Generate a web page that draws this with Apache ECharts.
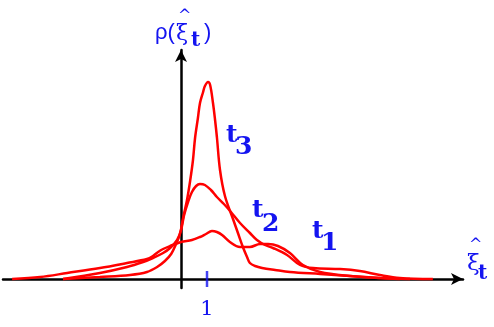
<!DOCTYPE html>
<html>
<head>
<meta charset="utf-8">
<script src="https://cdn.jsdelivr.net/npm/echarts@6/dist/echarts.min.js"></script>
<style>
  html, body { margin: 0; padding: 0; background: #fff; }
  #chart { width: 494px; height: 327px; }
</style>
</head>
<body>
<div id="chart"></div>
<script>
// density curves (x: tick "1" = 1, y: arbitrary height)
const t1X = [-6.5, -5.42, -4.38, -3.12, -2.08, -1.31, -1.08, -0.88, -0.69, -0.42, 0, 0.42, 0.73, 0.96, 1.19, 1.38, 1.58, 1.88, 2.27, 2.65, 3.04, 3.35, 3.73, 4.19, 4.69, 5.35, 6.5, 7.65, 8.81];
const t1Y = [0, 2, 6, 11, 16, 20, 23, 27, 30, 33, 37, 39, 42, 45, 48, 47, 44, 37, 32, 32, 35, 35, 33, 26, 14, 7, 3, 1, 0];

const t2X = [-4.54, -3.12, -2.08, -1.46, -1.08, -0.69, -0.42, -0.15, 0, 0.12, 0.27, 0.42, 0.58, 0.73, 0.92, 1.15, 1.38, 1.65, 1.92, 2.27, 2.65, 2.92, 3.23, 3.54, 4.08, 4.58, 5.08, 6.12, 6.88, 7.65, 8.42, 9.69];
const t2Y = [0, 6, 12, 17, 21, 26, 31, 39, 49, 64, 77, 87, 93, 95, 94, 89, 82, 75, 67, 56, 46, 39, 34, 31, 24, 14, 11, 10, 8, 4, 1, 0];

const t3X = [-4.54, -3.12, -1.96, -1.31, -0.92, -0.62, -0.38, -0.19, -0.04, 0.08, 0.23, 0.35, 0.46, 0.54, 0.65, 0.73, 0.85, 0.92, 1.04, 1.12, 1.23, 1.31, 1.38, 1.5, 1.69, 2.0, 2.19, 2.38, 2.54, 2.65, 2.85, 3.12, 3.62, 4.19, 5.35, 6.5, 7.65, 8.42];
const t3Y = [0, 2, 4, 7, 12, 18, 25, 35, 45, 61, 79, 98, 119, 141, 161, 176, 187, 193, 197, 194, 176, 159, 142, 109, 83, 60, 46, 32, 22, 16, 13, 11, 9, 7, 5, 3, 1, 0];

const tickValues = [1];

const red = '#ff0000';
const blue = '#1414f0';

const zip = (xs, ys) => xs.map((x, i) => [x, ys[i]]);

function curve(xs, ys) {
  return {
    type: 'line',
    data: zip(xs, ys),
    smooth: 0.35,
    showSymbol: false,
    silent: true,
    lineStyle: { color: red, width: 2.5 },
    z: 3
  };
}

// text piece as a title; y is the vertical middle of the text line
function txt(x, y, s, size, family, weight) {
  return {
    text: s,
    left: x,
    top: y - size / 2,
    padding: 0,
    itemGap: 0,
    textStyle: {
      color: blue,
      fontSize: size,
      lineHeight: size,
      fontFamily: family,
      fontWeight: weight || 'normal'
    }
  };
}

const serif = 'DejaVu Serif';
const sans = 'Liberation Sans';

const chart = echarts.init(document.getElementById('chart'), null, { renderer: 'canvas' });

const option = {
  animation: false,
  title: [
    // y axis title: rho(xi-hat t)
    txt(155, 33, 'ρ(', 22, sans),
    txt(176, 34, 'ξ', 22, serif),
    txt(178, 17, '^', 16, serif),
    txt(191, 41, 't', 20, serif, 'bold'),
    txt(204, 33, ')', 22, sans),
    // x axis title
    txt(467, 264, 'ξ', 23, serif),
    txt(469, 246, '^', 16, serif),
    txt(478, 274, 't', 20, serif, 'bold'),
    // curve labels
    txt(226, 135, 't', 25, serif, 'bold'),
    txt(235, 147, '3', 25, serif, 'bold'),
    txt(252, 210, 't', 25, serif, 'bold'),
    txt(262, 224, '2', 25, serif, 'bold'),
    txt(312, 231, 't', 25, serif, 'bold'),
    txt(321, 243, '1', 25, serif, 'bold')
  ],
  grid: { left: 3, right: 31, top: 50, bottom: 39 },
  xAxis: {
    type: 'value',
    min: -6.85,
    max: 10.85,
    splitLine: { show: false },
    axisTick: { show: false },
    axisLine: {
      onZero: true,
      symbol: ['none', 'arrow'],
      symbolSize: [9, 12],
      lineStyle: { color: '#000', width: 2.5 }
    },
    axisLabel: {
      customValues: tickValues,
      color: blue,
      fontFamily: serif,
      fontSize: 21,
      margin: 11
    }
  },
  yAxis: {
    type: 'value',
    min: -9,
    max: 229,
    splitLine: { show: false },
    axisTick: { show: false },
    axisLabel: { show: false },
    axisLine: {
      onZero: true,
      symbol: ['none', 'arrow'],
      symbolSize: [9, 12],
      lineStyle: { color: '#000', width: 2.5 }
    }
  },
  series: [
    curve(t1X, t1Y),
    curve(t2X, t2Y),
    curve(t3X, t3Y),
    {
      type: 'scatter',
      data: tickValues.map(v => [v, 0]),
      symbol: 'rect',
      symbolSize: [2.5, 16],
      itemStyle: { color: blue },
      silent: true,
      z: 4
    }
  ]
};

chart.setOption(option);
</script>
</body>
</html>
